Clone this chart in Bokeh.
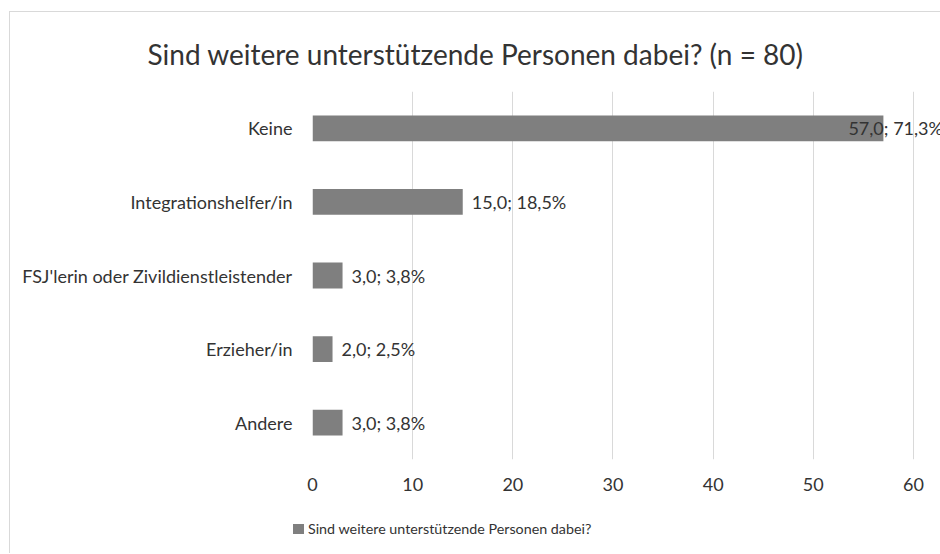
from bokeh.plotting import figure
from bokeh.layouts import column
from bokeh.models import (ColumnDataSource, FactorRange, Range1d, LabelSet, Title, Div)
from bokeh.core.properties import value
from bokeh.embed import file_html
from bokeh.resources import INLINE

categories = ["Keine", "Integrationshelfer/in", "FSJ'lerin oder Zivildienstleistender", "Erzieher/in", "Andere"]
counts = [57.0, 15.0, 3.0, 2.0, 3.0]
percents = [71.3, 18.5, 3.8, 2.5, 3.8]
title_text = "Sind weitere unterstützende Personen dabei? (n = 80)"
series_name = "Sind weitere unterstützende Personen dabei?"
x_ticks = [0, 10, 20, 30, 40, 50, 60]

FONT = "Lato"
TXT = "#333333"
BAR = "#7f7f7f"
GRID = "#d9d9d9"

def fmt(v):
    return f"{v:.1f}".replace(".", ",")

labels = [f"{fmt(c)}; {fmt(p)}%" for c, p in zip(counts, percents)]
offsets = [9 if c < 50 else -35 for c in counts]

src = ColumnDataSource(dict(cat=categories, val=counts, lab=labels, off=offsets))

p = figure(width=930, height=493, output_backend="svg", toolbar_location=None,
           y_range=FactorRange(*categories[::-1], range_padding=0),
           x_range=Range1d(0, 62.7),
           min_border_left=302, min_border_right=0, min_border_top=79, min_border_bottom=46)
p.outline_line_color = None
p.background_fill_color = "white"
p.border_fill_color = "white"

r = p.hbar(y="cat", right="val", left=0, height=0.35, source=src, fill_color=BAR, line_color=None)

p.ygrid.grid_line_color = None
p.xgrid.grid_line_color = GRID
p.xgrid.grid_line_width = 1
p.xaxis.ticker = x_ticks
p.xaxis.axis_line_color = None
p.xaxis.major_tick_line_color = None
p.xaxis.minor_tick_line_color = None
p.xaxis.major_label_standoff = 12
p.xaxis.major_label_text_font = FONT
p.xaxis.major_label_text_font_size = "18px"
p.xaxis.major_label_text_color = TXT

p.yaxis.axis_line_color = None
p.yaxis.major_tick_line_color = None
p.yaxis.major_label_standoff = 14
p.yaxis.major_label_text_font = FONT
p.yaxis.major_label_text_font_size = "18px"
p.yaxis.major_label_text_color = TXT

ls = LabelSet(x="val", y="cat", text="lab", x_offset="off", source=src,
              text_font=value(FONT), text_font_size=value("18px"), text_color=value(TXT),
              text_baseline="middle", text_align="left")
p.add_layout(ls)

p.add_layout(Title(text=title_text, align="left", offset=-165, standoff=42,
                   text_font=FONT, text_font_size="28px", text_color=TXT,
                   text_font_style="normal"), "above")

# legend strip below the chart
legend_html = (f'<span style="display:inline-block;width:11px;height:10px;'
               f'background:{BAR};margin-right:4px"></span>{series_name}')
legend_div = Div(text=legend_html, width=600, height=34, margin=(14, 0, 0, 283),
                 styles={"font-family": FONT, "font-size": "14.3px", "color": TXT,
                         "line-height": "19px", "white-space": "nowrap"})

layout = column(p, legend_div, spacing=0, margin=(11, 0, 0, 9),
                styles={"border-top": "1px solid #d9d9d9", "border-left": "1px solid #d9d9d9"})

open("out.html", "w").write(file_html(layout, INLINE))
